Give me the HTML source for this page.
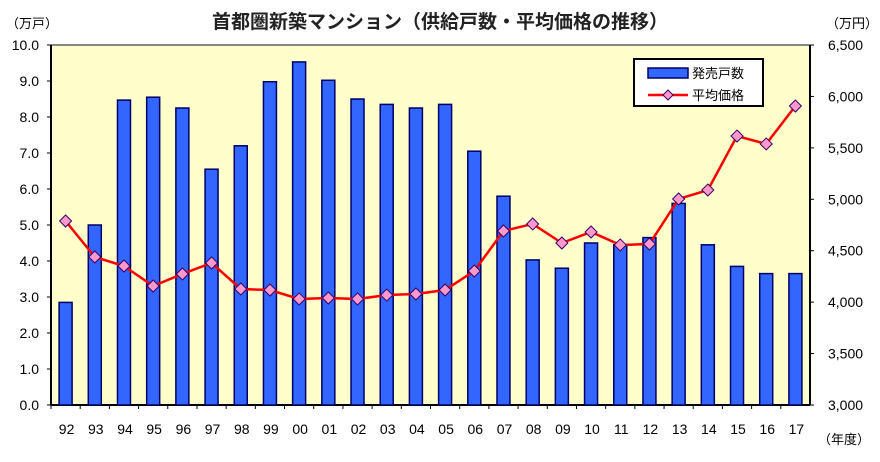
<!DOCTYPE html>
<html><head><meta charset="utf-8"><style>
body{margin:0;background:#fff;width:880px;height:457px;overflow:hidden}
text{font-family:"Liberation Sans","Noto Sans CJK JP",sans-serif}
</style></head><body>
<svg id="c" width="880" height="457" xmlns="http://www.w3.org/2000/svg"></svg>
<script>
const categories=["92","93","94","95","96","97","98","99","00","01","02","03","04","05","06","07","08","09","10","11","12","13","14","15","16","17"];
const units=[2.85,5.0,8.47,8.55,8.25,6.55,7.2,8.98,9.53,9.02,8.5,8.35,8.25,8.35,7.05,5.8,4.03,3.8,4.5,4.45,4.65,5.6,4.45,3.85,3.65,3.65];
const prices=[4789,4439,4351,4157,4274,4381,4128,4118,4031,4040,4031,4069,4079,4118,4303,4692,4760,4575,4682,4556,4565,5003,5090,5615,5538,5907];
const leftTicks=["0.0","1.0","2.0","3.0","4.0","5.0","6.0","7.0","8.0","9.0","10.0"];
const rightTicks=["3,000","3,500","4,000","4,500","5,000","5,500","6,000","6,500"];
const svg=document.getElementById('c'),NS="http://www.w3.org/2000/svg";
const L=51,R=810,T=45,B=405,bw=(R-L)/categories.length;
const yL=v=>B-(v/10)*(B-T), yR=v=>B-((v-3000)/3500)*(B-T), xC=i=>L+bw*(i+0.5);
function el(t,a,txt){const e=document.createElementNS(NS,t);for(const k in a)e.setAttribute(k,a[k]);if(txt!=null)e.textContent=txt;svg.appendChild(e);return e;}
let e;
e=el('rect',{x:L,y:T,width:R-L,height:B-T,fill:'#ffffcc'});


el('line',{x1:L,y1:T,x2:R,y2:T,stroke:'#888',"stroke-width":2});
el('line',{x1:L,y1:T,x2:L,y2:B,stroke:'#000',"stroke-width":2});
el('line',{x1:R,y1:T,x2:R,y2:B,stroke:'#000',"stroke-width":2});
el('line',{x1:L,y1:B,x2:R,y2:B,stroke:'#000',"stroke-width":2});
leftTicks.forEach((t,i)=>{const y=yL(parseFloat(t));
el('line',{x1:L-4,y1:y,x2:L,y2:y,stroke:'#000'});
e=el('text',{x:L-12,y:y+5,"text-anchor":"end","font-size":14},t);

});
rightTicks.forEach(t=>{const y=yR(parseFloat(t.replace(',','')));
el('line',{x1:R,y1:y,x2:R+4,y2:y,stroke:'#000'});
e=el('text',{x:828,y:y+5,"font-size":14},t);

});
categories.forEach((c,i)=>{
el('line',{x1:L+bw*i,y1:B,x2:L+bw*i,y2:B+4,stroke:'#000'});
e=el('text',{x:xC(i)+1,y:434,"text-anchor":"middle","font-size":14},c);


e=el('rect',{x:xC(i)-6.5,y:yL(units[i]),width:13,height:B-yL(units[i]),fill:'#3366ff',stroke:'#000066',"stroke-width":1.5});

});
e=el('polyline',{points:prices.map((p,i)=>xC(i)+','+yR(p)).join(' '),fill:'none',stroke:'#ff0000',"stroke-width":2.5});


prices.forEach((p,i)=>{const x=xC(i),y=yR(p);
e=el('polygon',{points:`${x},${y-6} ${x+6},${y} ${x},${y+6} ${x-6},${y}`,fill:'#ff99cc',stroke:'#330066',"stroke-width":1});

});
e=el('text',{x:440,y:28,"text-anchor":"middle","font-size":19,"font-weight":"bold",fill:'#222'},"首都圏新築マンション（供給戸数・平均価格の推移）");


e=el('text',{x:6,y:28,"font-size":13},"（万戸）");


e=el('text',{x:826,y:28,"font-size":13},"（万円）");


e=el('text',{x:818,y:444,"font-size":13},"（年度）");


e=el('rect',{x:634,y:59,width:129,height:47,fill:'#fff',stroke:'#000',"stroke-width":2});


el('rect',{x:648,y:68,width:40,height:10,fill:'#3366ff',stroke:'#000066',"stroke-width":1.5});
e=el('text',{x:692,y:78,"font-size":13},"発売戸数");


el('line',{x1:648,y1:95,x2:688,y2:95,stroke:'#f00',"stroke-width":2.5});
el('polygon',{points:"668,90 673,95 668,100 663,95",fill:'#ff99cc',stroke:'#330066'});
e=el('text',{x:692,y:100,"font-size":13},"平均価格");


</script>
</body></html>
